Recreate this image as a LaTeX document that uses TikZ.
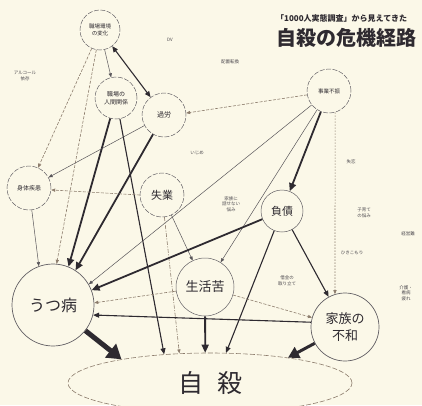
\documentclass[tikz,border=0pt]{standalone}
\usepackage{fontspec}
\setmainfont{Noto Sans CJK JP}
\usetikzlibrary{arrows.meta,shapes.geometric}
\definecolor{paper}{HTML}{FBF8E8}
\definecolor{ink}{HTML}{2E2A30}
\definecolor{faint}{HTML}{8C7C6C}
\tikzset{
  bub/.style={circle, draw=ink!75, line width=0.5pt, fill=paper, inner sep=0pt, align=center, text=ink},
  bubd/.style={bub, dash pattern=on 5pt off 1.5pt},
  mega/.style={draw=ink, line width=5pt, -{Triangle[length=14pt,width=17pt]}},
  heavy/.style={draw=ink, line width=1.8pt, -{Triangle[length=8pt,width=7pt]}},
  mid/.style={draw=ink, line width=1.1pt, -{Triangle[length=6pt,width=5pt]}},
  thinl/.style={draw=ink!80, line width=0.5pt, -{Triangle[length=4pt,width=3.2pt]}},
  dsh/.style={draw=faint, line width=0.6pt, dash pattern=on 3pt off 1.5pt, -{Triangle[length=4pt,width=3.2pt]}},
  dotl/.style={draw=faint, line width=0.6pt, dash pattern=on 1.5pt off 1.5pt, -{Triangle[length=4pt,width=3.2pt]}},
  dshdot/.style={draw=faint, line width=0.6pt, dash pattern=on 4pt off 1.5pt on 1pt off 1.5pt, -{Triangle[length=4pt,width=3.2pt]}},
  lbl/.style={font=\fontsize{4.5}{5.5}\selectfont, text=ink!85, align=center, inner sep=0pt},
}
\begin{document}
\begin{tikzpicture}[x=1pt,y=-1pt]
\fill[paper] (0,0) rectangle (422,405);
\useasboundingbox (0,0) rectangle (422,405);
\clip (0,0) rectangle (422,405);

% titles
\node[anchor=west, inner sep=0pt, text=ink, font=\fontsize{8}{9}\selectfont\bfseries] (sub) at (276,18) {「1000人実態調査」から見えてきた};
\node[anchor=west, inner sep=0pt, text=ink, font=\fontsize{20}{22}\selectfont\bfseries] (ttl) at (276,38) {自殺の危機経路};

% nodes
\node[bubd, minimum size=40pt, font=\fontsize{5.5}{6.5}\selectfont] (env) at (100,30) {職場環境\\の変化};
\node[bubd, minimum size=42pt, font=\fontsize{6}{7.5}\selectfont] (ningen) at (116,98) {職場の\\人間関係};
\node[bubd, minimum size=44pt, font=\fontsize{7}{8}\selectfont] (karou) at (164,115) {過労};
\node[bubd, minimum size=44pt, font=\fontsize{5.5}{6.5}\selectfont] (jigyou) at (329,91) {事業不振};
\node[bubd, minimum size=44pt, font=\fontsize{6}{7}\selectfont] (shintai) at (29,188) {身体疾患};
\node[bubd, minimum size=44pt, font=\fontsize{11}{12}\selectfont] (shitsu) at (162,195) {失業};
\node[bub, minimum size=42pt, font=\fontsize{11}{12}\selectfont] (fusai) at (282,211) {負債};
\node[bub, minimum size=82pt, line width=0.7pt, font=\fontsize{16}{18}\selectfont] (utsu) at (53,305) {うつ病};
\node[bub, minimum size=58pt, font=\fontsize{13}{14}\selectfont] (seikatsu) at (205,287) {生活苦};
\node[bub, minimum size=68pt, line width=0.7pt, font=\fontsize{13}{17}\selectfont] (kazoku) at (345,327) {家族の\\不和};
\node[ellipse, draw=faint, line width=0.6pt, dash pattern=on 5pt off 2pt, fill=paper, minimum width=284pt, minimum height=60pt, inner sep=0pt, text=ink, font=\fontsize{25}{26}\selectfont] (jisatsu) at (210,383) {自\hspace{14pt}殺};

% small labels
\node[lbl] (l1) at (25,76) {アルコール\\依存};
\node[lbl] (l2) at (170,40) {DV};
\node[lbl] (l3) at (230,62) {配置転換};
\node[lbl] (l4) at (197,153) {いじめ};
\node[lbl] (l5) at (231,204) {家族に\\話せない\\悩み};
\node[lbl] (l6) at (351,162) {失恋};
\node[lbl] (l7) at (364,213) {子育て\\の悩み};
\node[lbl] (l8) at (408,234) {経営難};
\node[lbl] (l9) at (352,253) {ひきこもり};
\node[lbl] (l10) at (406,293) {介護・\\看病\\疲れ};
\node[lbl] (l11) at (287,281) {借金の\\取り立て};

% connectors
\draw[dsh] (env) -- (shintai);
\draw[dsh] (env) -- (utsu.85);
\draw[thinl] (env) -- (ningen);
\draw[draw=ink, line width=1.1pt, {Triangle[length=6pt,width=5pt]}-{Triangle[length=6pt,width=5pt]}] (env) -- (karou);
\draw[heavy] (ningen) -- (utsu.68);
\draw[mid] (ningen) -- (jisatsu.148);
\draw[heavy] (karou) -- (utsu.57);
\draw[thinl] (karou) -- (shintai);
\draw[dsh] (jigyou.190) -- (karou.5);
\draw[heavy] (jigyou) -- (fusai);
\draw[thinl] (jigyou) -- (utsu.30);
\draw[thinl] (jigyou) -- (seikatsu);
\draw[dotl] (jigyou.-74) -- (kazoku.107);
\draw[dsh] (shitsu.180) -- (shintai.-5);
\draw[thinl] (shintai) -- (utsu.110);
\draw[thinl] (shitsu) -- (seikatsu);
\draw[dshdot] (shitsu) -- (jisatsu.136);
\draw[heavy] (fusai) -- (utsu.21);
\draw[mid] (fusai) -- (kazoku);
\draw[mid] (fusai) -- (jisatsu.62);
\draw[dsh] (seikatsu) -- (utsu.3);
\draw[dsh] (seikatsu) -- (kazoku);
\draw[mid] (kazoku.172) -- (utsu.-14);
\draw[heavy] (seikatsu) -- (jisatsu.99);
\draw[draw=ink, line width=3pt, -{Triangle[length=11pt,width=12pt]}] (kazoku) -- (jisatsu.18);
\draw[mega] (utsu) -- (jisatsu.165);
\end{tikzpicture}
\end{document}
